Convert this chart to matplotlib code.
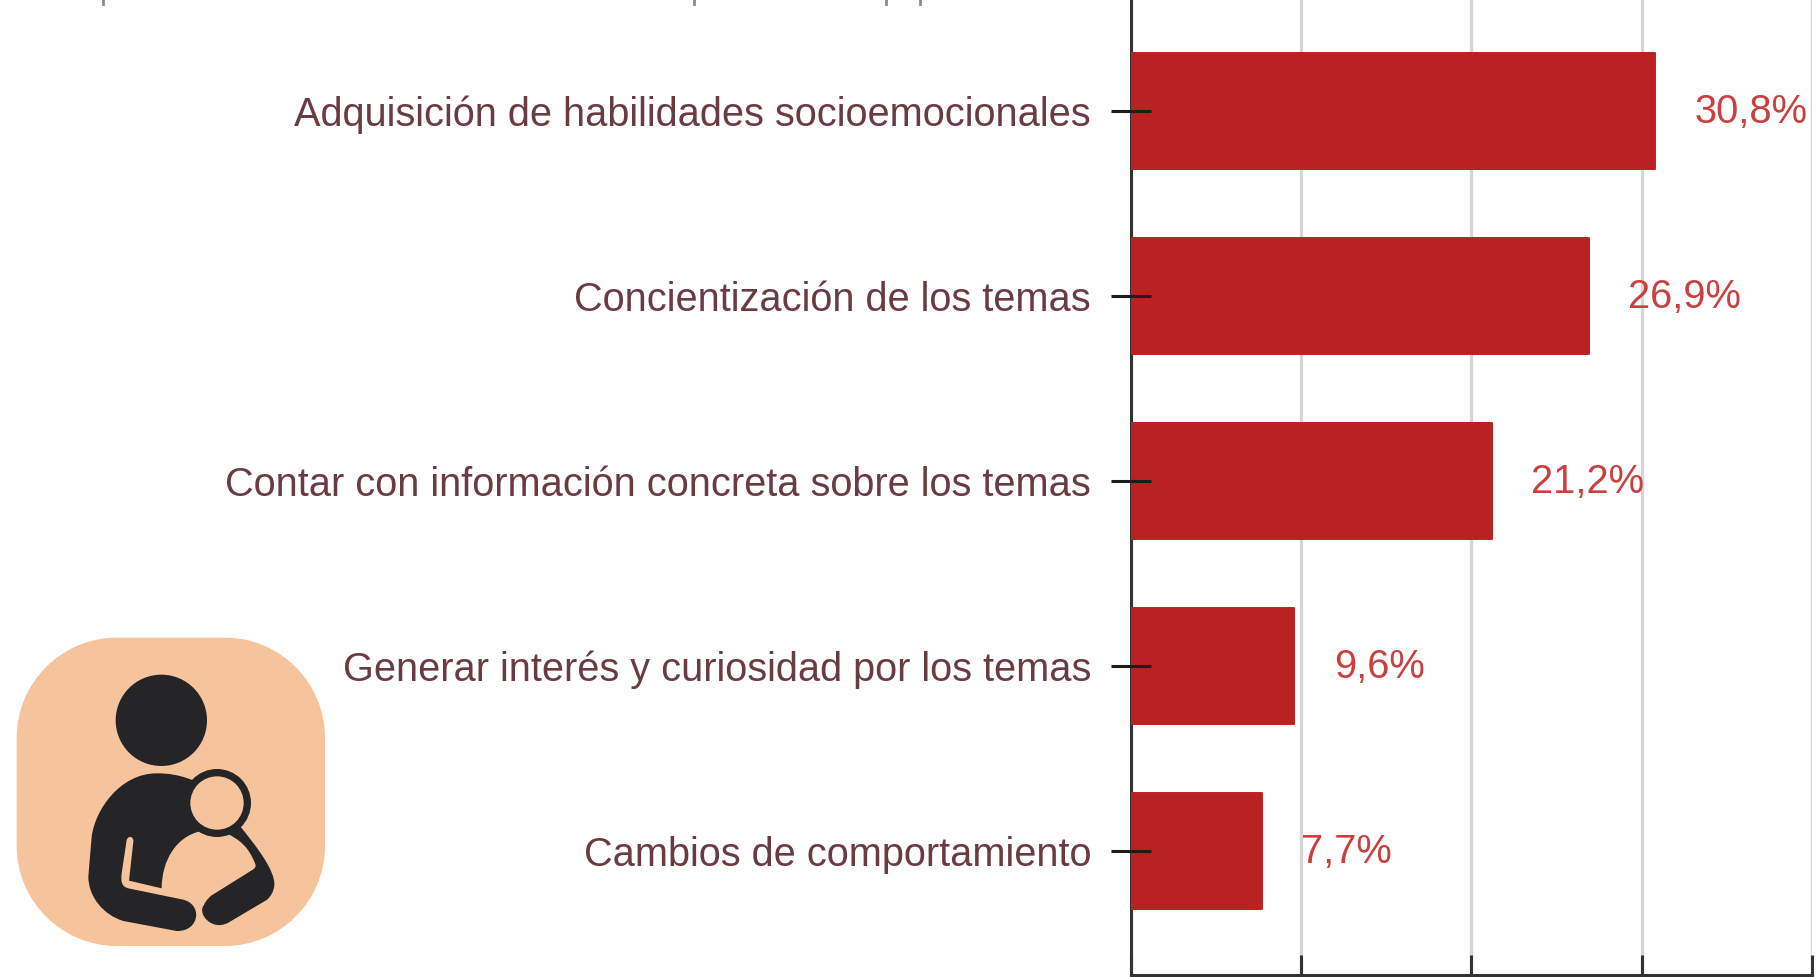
import matplotlib
matplotlib.use("Agg")
import matplotlib.pyplot as plt
from matplotlib.patches import PathPatch, Circle
from matplotlib.path import Path

categories = ["Adquisición de habilidades socioemocionales",
              "Concientización de los temas",
              "Contar con información concreta sobre los temas",
              "Generar interés y curiosidad por los temas",
              "Cambios de comportamiento"]
values = [30.8, 26.9, 21.2, 9.6, 7.7]
value_labels = ["30,8%", "26,9%", "21,2%", "9,6%", "7,7%"]
xticks = [0, 10, 20, 30, 40]

W, H = 1817, 977
plt.rcParams['font.family'] = ['Liberation Sans', 'DejaVu Sans']
fig = plt.figure(figsize=(W/100, H/100), dpi=100, facecolor='white')

L, R, T, B = 1130.5, 1812, 0, 975
ax = fig.add_axes([L/W, 1-B/H, (R-L)/W, (B-T)/H])
ax.set_xlim(0, 40)
ax.set_ylim((975-111)/185, -111/185)
ax.set_axisbelow(True)
ax.grid(axis='x', color='#d6d6d6', lw=2.4)
ax.barh(range(len(values)), values, height=0.63, color='#ba2121',
        edgecolor='#ba2121', linewidth=1.4, joinstyle='round', zorder=5)
for s in ['top', 'right']:
    ax.spines[s].set_visible(False)
for s in ['left', 'bottom']:
    ax.spines[s].set_color('#333333')
    ax.spines[s].set_linewidth(2.2)
    ax.spines[s].set_zorder(4)
ax.set_yticks(range(len(categories)))
ax.set_yticklabels(categories, color='#6a3b40', fontsize=28.6)
ax.tick_params(axis='y', direction='inout', length=28.8, width=2.2,
               color='#1c1c1c', pad=14)
ax.yaxis.set_zorder(7)
ax.set_xticks(xticks)
ax.set_xticklabels([])
ax.tick_params(axis='x', direction='in', length=14.4, width=2.2, color='#333333')
for i, (v, lab) in enumerate(zip(values, value_labels)):
    ax.annotate(lab, (v, i), xytext=(28.5, -0.8), textcoords='offset points',
                va='center', ha='left', fontsize=28.7, color='#c9403f',
                annotation_clip=False)

# cut-off remnants of a text line at the very top of the image
for xp in (103, 694, 885.5, 920):
    fig.add_artist(plt.Line2D([xp/W, xp/W], [1, 1-4/H], color='#8a8a8a', lw=2))

# icon, in the zoomed icon-crop coordinates
ic = fig.add_axes([0, 1-977/H, 350/W, 357/H])
ic.set_xlim(0, 1050); ic.set_ylim(1071, 0); ic.axis('off')
ic.patch.set_alpha(0)
peach, dark = '#f5c49c', '#252527'
r = 300
k = 135
x0, x1, y0, y1 = 50, 975, 53, 978
M, Ln, C = Path.MOVETO, Path.LINETO, Path.CURVE4
def bez(items):
    v, c = [], []
    for it in items:
        if len(it) == 3 and it[0] == 'M': v.append(it[1:]); c.append(M)
        elif len(it) == 3 and it[0] == 'L': v.append(it[1:]); c.append(Ln)
        else:
            v += [it[1:3], it[3:5], it[5:7]]; c += [C]*3
    v.append(v[0]); c.append(Path.CLOSEPOLY)
    return Path(v, c)
box = bez([('M', x0+r, y0), ('L', x1-r, y0),
           ('C', x1-k, y0, x1, y0+k, x1, y0+r),
           ('L', x1, y1-r),
           ('C', x1, y1-k, x1-k, y1, x1-r, y1),
           ('L', x0+r, y1),
           ('C', x0+k, y1, x0, y1-k, x0, y1-r),
           ('L', x0, y0+r),
           ('C', x0, y0+k, x0+k, y0, x0+r, y0)])
ic.add_patch(PathPatch(box, fc=peach, ec='none'))
ic.add_patch(Circle((484, 301), 137, fc=dark, ec='none'))
body = bez([('M', 600, 490),
            ('C', 540, 462, 500, 460, 470, 460),
            ('C', 360, 460, 285, 570, 275, 650),
            ('L', 265, 770),
            ('C', 265, 830, 310, 885, 370, 903),
            ('L', 530, 933),
            ('C', 600, 935, 610, 850, 545, 838),
            ('L', 385, 805),
            ('C', 365, 800, 362, 785, 365, 760),
            ('L', 380, 660),
            ('C', 385, 645, 402, 650, 400, 665),
            ('L', 387, 782), ('L', 485, 805),
            ('C', 485, 720, 530, 650, 600, 634),
            ('L', 640, 560)])
ic.add_patch(PathPatch(body, fc=dark, ec='none'))
arm = bez([('M', 715, 612),
           ('C', 770, 680, 825, 750, 823, 795),
           ('C', 822, 815, 810, 832, 800, 840),
           ('L', 685, 908),
           ('C', 635, 935, 590, 880, 612, 855),
           ('C', 618, 840, 628, 832, 635, 826),
           ('L', 760, 748),
           ('C', 770, 740, 767, 735, 765, 730),
           ('C', 745, 680, 720, 660, 680, 640)])
ic.add_patch(PathPatch(arm, fc=dark, ec='none'))
ic.add_patch(Circle((651, 549), 102, fc=dark, ec='none'))
ic.add_patch(Circle((651, 549), 80, fc=peach, ec='none'))

fig.savefig('out.png', dpi=100)
